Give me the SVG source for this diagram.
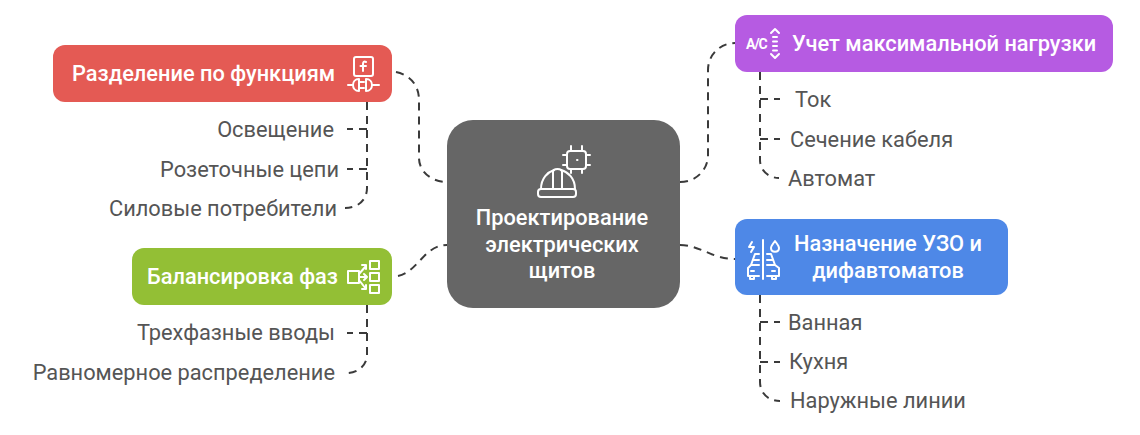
<svg xmlns="http://www.w3.org/2000/svg" width="1140" height="435" viewBox="0 0 1140 435">
<style>
text{font-family:Roboto,"Liberation Sans",sans-serif}
.h{font-size:21.8px;font-weight:500;fill:#fff}
.c{font-size:21.8px;font-weight:500;fill:#fff;text-anchor:middle}
.l{font-size:21.8px;fill:#555}
.e{text-anchor:end}
.con path{fill:none;stroke:#3a3a3a;stroke-width:2;stroke-dasharray:8 6}
.i *{fill:none;stroke:#fff;stroke-width:2;stroke-linecap:round;stroke-linejoin:round}
</style>
<rect width="1140" height="435" fill="#fff"/>
<g id="connectors" class="con">
<path d="M396 72C410 75 419 85 419 100V158C419 172 432 182 447 182"/>
<path d="M680 182C696 182 708 170 708 155V70C708 55 720 43 735 43"/>
<path d="M398 276C418 272 424 245 447 245"/>
<path d="M680 245C700 245 712 259 735 259"/>
<path d="M367 102V188C367 200 358 208 345 208"/>
<path d="M367 129H347"/><path d="M367 169H347"/>
<path d="M367 305V355C367 365 358 373 347 373"/>
<path d="M367 333H347"/>
<path d="M760 72V160C760 170 768 178 779 178"/>
<path d="M760 99H780"/><path d="M760 139H780"/>
<path d="M760 295V382C760 393 768 401 780 401"/>
<path d="M760 322H780"/><path d="M760 362H780"/>
</g>
<g id="center">
<rect x="447" y="120" width="233" height="188" rx="26" fill="#666"/>
<g class="i">
<rect x="567" y="151" width="19" height="18" rx="3"/>
<path d="M571 151V146M582 151V146M571 169V173M582 169V173M567 155H563M567 165H563M586 155H590M586 165H590"/>
<path d="M577 160h.5"/>
<path d="M541 189C541 178 548 172 554 170M575 189C575 178 568 172 561 170"/>
<path d="M553 189V172C553 168 562 168 562 172V189"/>
<rect x="538" y="189" width="38" height="8" rx="3"/>
</g>
<text class="c" x="562" y="225">Проектирование</text>
<text class="c" x="562" y="252">электрических</text>
<text class="c" x="562" y="278">щитов</text>
</g>
<g id="razdelenie">
<rect x="53" y="45" width="339" height="57" rx="12" fill="#e45a54"/>
<text class="h" x="72" y="80.500">Разделение по функциям</text>
<g class="i">
<rect x="354" y="57" width="19" height="19" rx="2"/>
<path d="M366 62C364 61 363 62 363 64V71M360.500 66H366"/>
<path d="M348 85H353M359 79V91C351 91 351 79 359 79ZM359 82H364M359 88H364M366 79C374 79 374 91 366 91ZM373 85H379"/>
</g>
</g>
<g id="l1"><text class="l e" x="334" y="136.500">Освещение</text></g>
<g id="l2"><text class="l e" x="339" y="176.500">Розеточные цепи</text></g>
<g id="l3"><text class="l e" x="337" y="215.500">Силовые потребители</text></g>
<g id="balans">
<rect x="132" y="248" width="260" height="57" rx="12" fill="#93bf35"/>
<text class="h" x="147" y="284">Балансировка фаз</text>
<g class="i">
<rect x="348" y="271" width="11" height="12"/>
<rect x="370" y="261" width="9" height="8"/>
<rect x="370" y="273" width="9" height="8"/>
<rect x="370" y="285" width="9" height="8"/>
<path d="M359 274L366 266M359 277H367M359 280L366 289M362 265H366V269M364 274L367 277L364 280M366 285V289H362"/>
</g>
</g>
<g id="l4"><text class="l e" x="335" y="340">Трехфазные вводы</text></g>
<g id="l5"><text class="l e" x="335" y="380">Равномерное распределение</text></g>
<g id="uchet">
<rect x="735" y="15" width="378" height="57" rx="12" fill="#b65be2"/>
<text class="h" x="792" y="51">Учет максимальной нагрузки</text>
<text x="746" y="49" font-size="14" font-weight="700" fill="#fff" letter-spacing="-1">A/C</text>
<g class="i">
<path d="M771 33L775 29L779 33M771 54L775 58L779 54"/>
<path d="M773 37H777M773 41.500H777M773 46H777M773 50.500H777"/>
</g>
</g>
<g id="r1"><text class="l" x="795" y="106.500">Ток</text></g>
<g id="r2"><text class="l" x="790" y="146.500">Сечение кабеля</text></g>
<g id="r3"><text class="l" x="788" y="185.500">Автомат</text></g>
<g id="uzo">
<rect x="735" y="219" width="273" height="76" rx="12" fill="#4e88e7"/>
<text class="c" x="888" y="251">Назначение УЗО и</text>
<text class="c" x="888" y="278">дифавтоматов</text>
<g class="i">
<path d="M763 240V279"/>
<path d="M752 242L749 247H754L751 252"/>
<path d="M775 241C772 245 771 246 771 248C771 253 779 253 779 248C779 246 778 245 775 241Z"/>
<path d="M759 254H755L751 265M759 260H754M759 265H751L748 268V276H759M767 254H771L775 265H767M767 260H773M775 265L779 268V276H767M750 276V279H754V276M772 276V279H776V276M751 271H754M772 271H775"/>
</g>
</g>
<g id="r4"><text class="l" x="788" y="329.500">Ванная</text></g>
<g id="r5"><text class="l" x="789" y="369">Кухня</text></g>
<g id="r6"><text class="l" x="790" y="408">Наружные линии</text></g>
</svg>
